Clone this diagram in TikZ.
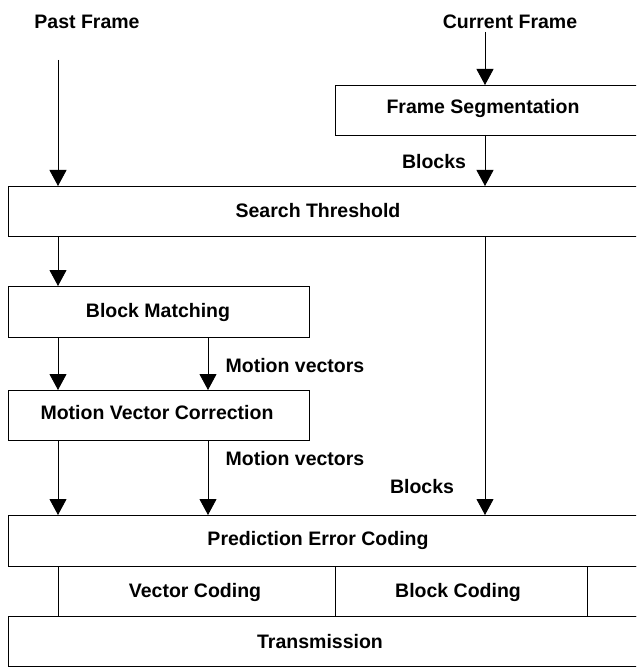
\documentclass[tikz,border=0pt]{standalone}
\usepackage{fontspec}
\setmainfont{Liberation Sans}
\usetikzlibrary{arrows.meta}
\begin{document}
\begin{tikzpicture}[x=1pt,y=-1pt,
  font=\fontsize{19.5}{22}\selectfont\bfseries,
  box/.style={draw, line width=0.9pt, inner sep=0pt, outer sep=0pt},
  lbl/.style={inner sep=0pt, anchor=center},
  arr/.style={line width=0.9pt, -{Triangle[width=17pt,length=16pt]}},
  ln/.style={line width=0.9pt}]
\useasboundingbox (0,0) rectangle (636,668);
\clip (0,0) rectangle (636,668);
% boxes (the wide ones run past the right edge)
\node[box, minimum width=325pt, minimum height=50pt] (seg) at (497.5,110) {};
\node[box, minimum width=652pt, minimum height=50pt] (thr) at (334,211) {};
\node[box, minimum width=301pt, minimum height=51pt] (bm)  at (158.5,311.5) {};
\node[box, minimum width=301pt, minimum height=50pt] (mvc) at (158.5,415) {};
\node[box, minimum width=652pt, minimum height=51pt] (pec) at (334,540.5) {};
\node[box, minimum width=277pt, minimum height=50pt] (vc)  at (196.5,591) {};
\node[box, minimum width=252pt, minimum height=50pt] (bc)  at (461,591) {};
\node[box, minimum width=73pt,  minimum height=50pt] (rest) at (623.5,591) {};
\node[box, minimum width=652pt, minimum height=50pt] (tx)  at (334,641) {};
% texts
\node[lbl] (pastlbl) at (87,22) {Past Frame};
\node[lbl] (curlbl)  at (510,22) {Current Frame};
\node[lbl] (segtxt)  at (483,109) {Frame Segmentation};
\node[lbl] (blk1)    at (434,162) {Blocks};
\node[lbl] (thrtxt)  at (318,211) {Search Threshold};
\node[lbl] (bmtxt)   at (158,312) {Block Matching};
\node[lbl] (mv1)     at (295,366) {Motion vectors};
\node[lbl] (mvctxt)  at (157,413) {Motion Vector Correction};
\node[lbl] (mv2)     at (295,459) {Motion vectors};
\node[lbl] (blk2)    at (422,487) {Blocks};
\node[lbl] (pectxt)  at (318,540) {Prediction Error Coding};
\node[lbl] (vctxt)   at (195,592) {Vector Coding};
\node[lbl] (bctxt)   at (458,592) {Block Coding};
\node[lbl] (txtxt)   at (320,642) {Transmission};
% connector columns and free ends
\coordinate (xL) at (58,0);
\coordinate (xM) at (208,0);
\coordinate (xR) at (485,0);
\coordinate (pastTop) at (58,60);
\coordinate (curTop) at (485,32);
% connectors
\draw[arr] (pastTop) -- (xL |- thr.north);
\draw[arr] (curTop) -- (xR |- seg.north);
\draw[arr] (xR |- seg.south) -- (xR |- thr.north);
\draw[arr] (xL |- thr.south) -- (xL |- bm.north);
\draw[arr] (xL |- bm.south) -- (xL |- mvc.north);
\draw[arr] (xM |- bm.south) -- (xM |- mvc.north);
\draw[arr] (xL |- mvc.south) -- (xL |- pec.north);
\draw[arr] (xM |- mvc.south) -- (xM |- pec.north);
\draw[arr] (xR |- thr.south) -- (xR |- pec.north);
\end{tikzpicture}
\end{document}
